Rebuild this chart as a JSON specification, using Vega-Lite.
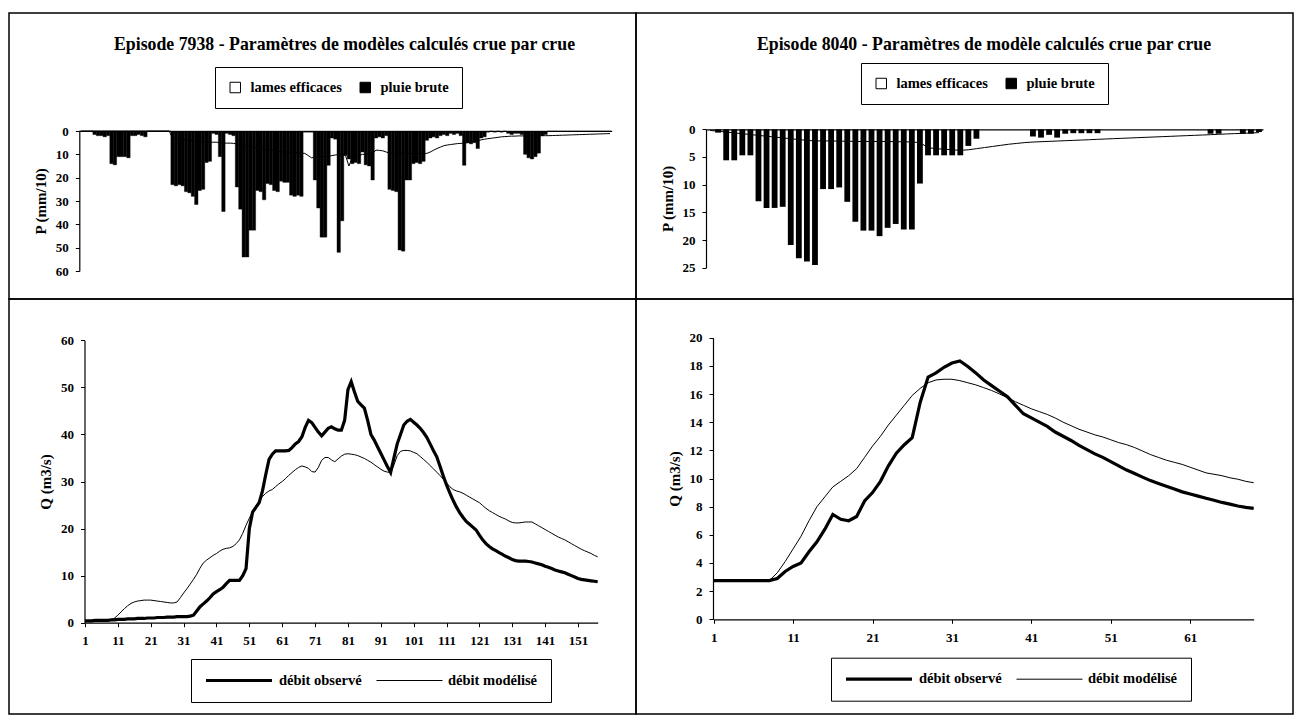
{
"$schema": "https://vega.github.io/schema/vega-lite/v6.json",
"background": "white",
"padding": {"left": 8, "top": 12, "right": 0, "bottom": 0},
"columns": 2,
"spacing": 0,
"align": "each",
"bounds": "flush",
"resolve": {"scale": {"fill": "independent", "strokeWidth": "independent"}, "legend": {"fill": "independent", "strokeWidth": "independent"}},
"config": {
  "font": "Liberation Serif",
  "view": {"stroke": "black", "strokeWidth": 1.5},
  "title": {"font": "Liberation Serif", "fontSize": 17.8, "fontWeight": "bold", "color": "black"},
  "axis": {"labelFont": "Liberation Serif", "labelFontWeight": "bold", "labelFontSize": 13, "labelColor": "black",
           "titleFont": "Liberation Serif", "titleFontWeight": "bold", "titleFontSize": 15, "titleColor": "black",
           "domainColor": "black", "domainWidth": 1.2, "tickColor": "black", "tickWidth": 1, "tickSize": 4,
           "grid": false, "labelPadding": 7, "titlePadding": 7, "zindex": 1},
  "legend": {"labelFont": "Liberation Serif", "labelFontWeight": "bold", "labelFontSize": 14.5, "labelColor": "black", "labelLimit": 300}
},
"datasets": {
"tl": [
{"t":1,"le":0,"pb":0},{"t":2,"le":0,"pb":0},{"t":3,"le":0,"pb":0},{"t":4,"le":0,"pb":0},{"t":5,"le":0,"pb":1.5},
{"t":6,"le":0,"pb":2},{"t":7,"le":0,"pb":2},{"t":8,"le":0,"pb":2.5},{"t":9,"le":0,"pb":2},{"t":10,"le":0,"pb":14},
{"t":11,"le":0,"pb":14.5},{"t":12,"le":0,"pb":11},{"t":13,"le":0,"pb":11},{"t":14,"le":0,"pb":11},{"t":15,"le":0,"pb":11.5},
{"t":16,"le":0,"pb":2},{"t":17,"le":0,"pb":2},{"t":18,"le":0,"pb":1.5},{"t":19,"le":0,"pb":2},{"t":20,"le":0,"pb":2.5},
{"t":21,"le":0,"pb":0},{"t":22,"le":0,"pb":0},{"t":23,"le":0,"pb":0},{"t":24,"le":0,"pb":0},{"t":25,"le":0,"pb":0},
{"t":26,"le":0,"pb":0},{"t":27,"le":0,"pb":0},{"t":28,"le":3,"pb":23},{"t":29,"le":3.2,"pb":23.5},{"t":30,"le":3.4,"pb":23},
{"t":31,"le":3.6,"pb":23.5},{"t":32,"le":3.8,"pb":26},{"t":33,"le":4,"pb":26.5},{"t":34,"le":4.2,"pb":28},{"t":35,"le":4.4,"pb":31.5},
{"t":36,"le":4.5,"pb":25.5},{"t":37,"le":4.6,"pb":25},{"t":38,"le":4.7,"pb":13.5},{"t":39,"le":4.8,"pb":13},{"t":40,"le":4.8,"pb":1},
{"t":41,"le":4.8,"pb":1.5},{"t":42,"le":5,"pb":11},{"t":43,"le":5.2,"pb":34.5},{"t":44,"le":5.2,"pb":1},{"t":45,"le":5.2,"pb":1.5},
{"t":46,"le":5.3,"pb":2},{"t":47,"le":5.5,"pb":24},{"t":48,"le":5.8,"pb":33.5},{"t":49,"le":6,"pb":54},{"t":50,"le":6.3,"pb":54},
{"t":51,"le":6.6,"pb":42.5},{"t":52,"le":6.9,"pb":42.5},{"t":53,"le":7.2,"pb":25.5},{"t":54,"le":7.5,"pb":26},{"t":55,"le":7.8,"pb":29.5},
{"t":56,"le":8,"pb":22.5},{"t":57,"le":8.2,"pb":23},{"t":58,"le":8.4,"pb":25.5},{"t":59,"le":8.6,"pb":26},{"t":60,"le":8.8,"pb":21.5},
{"t":61,"le":9,"pb":22},{"t":62,"le":9.1,"pb":22},{"t":63,"le":9.2,"pb":27.5},{"t":64,"le":9.3,"pb":28},{"t":65,"le":9.4,"pb":27.5},
{"t":66,"le":9.5,"pb":28},{"t":67,"le":9.6,"pb":0.5},{"t":68,"le":10.5,"pb":0.5},{"t":69,"le":11.5,"pb":0.5},{"t":70,"le":11.2,"pb":21},
{"t":71,"le":11,"pb":33},{"t":72,"le":11,"pb":45.5},{"t":73,"le":11,"pb":45.5},{"t":74,"le":11,"pb":14.7},{"t":75,"le":10.5,"pb":3},
{"t":76,"le":10.3,"pb":3.5},{"t":77,"le":10,"pb":52},{"t":78,"le":10,"pb":38.5},{"t":79,"le":10.5,"pb":10.5},{"t":80,"le":15,"pb":12},
{"t":81,"le":11.5,"pb":14},{"t":82,"le":11,"pb":13.5},{"t":83,"le":10.5,"pb":14},{"t":84,"le":10,"pb":9},{"t":85,"le":10,"pb":14.5},
{"t":86,"le":9.8,"pb":15},{"t":87,"le":9.5,"pb":21},{"t":88,"le":8.2,"pb":3},{"t":89,"le":8.3,"pb":2.5},{"t":90,"le":8.5,"pb":3},
{"t":91,"le":9,"pb":2},{"t":92,"le":9.5,"pb":25},{"t":93,"le":9.5,"pb":25.5},{"t":94,"le":9.5,"pb":26},{"t":95,"le":9.5,"pb":51},
{"t":96,"le":9.5,"pb":51.5},{"t":97,"le":9.6,"pb":21},{"t":98,"le":9.6,"pb":21},{"t":99,"le":9.6,"pb":14},{"t":100,"le":9.6,"pb":13.5},
{"t":101,"le":9.6,"pb":14},{"t":102,"le":9.6,"pb":13},{"t":103,"le":9.6,"pb":4},{"t":104,"le":9,"pb":3},{"t":105,"le":8.2,"pb":2.5},
{"t":106,"le":7.5,"pb":3},{"t":107,"le":6.9,"pb":2},{"t":108,"le":6.3,"pb":1.5},{"t":109,"le":6,"pb":2},{"t":110,"le":5.8,"pb":1},
{"t":111,"le":5.6,"pb":1.5},{"t":112,"le":5.4,"pb":1},{"t":113,"le":5.3,"pb":2},{"t":114,"le":5.2,"pb":14.7},{"t":115,"le":5,"pb":5},
{"t":116,"le":4.7,"pb":5.5},{"t":117,"le":4.4,"pb":5},{"t":118,"le":4.1,"pb":7.5},{"t":119,"le":3.8,"pb":3},{"t":120,"le":3.5,"pb":2.5},
{"t":121,"le":3.3,"pb":0.5},{"t":122,"le":3.1,"pb":0},{"t":123,"le":2.9,"pb":0.5},{"t":124,"le":2.7,"pb":0},{"t":125,"le":2.5,"pb":0.5},
{"t":126,"le":2.4,"pb":0},{"t":127,"le":2.3,"pb":1},{"t":128,"le":2.2,"pb":1.5},{"t":129,"le":2.2,"pb":1},{"t":130,"le":2.1,"pb":1},
{"t":131,"le":2.1,"pb":1.5},{"t":132,"le":2.1,"pb":10},{"t":133,"le":2,"pb":11.5},{"t":134,"le":2,"pb":12},{"t":135,"le":2,"pb":11},
{"t":136,"le":2,"pb":9.5},{"t":137,"le":2,"pb":2},{"t":138,"le":2,"pb":1.5},{"t":139,"le":2,"pb":0},{"t":140,"le":1.95,"pb":0},
{"t":141,"le":1.9,"pb":0},{"t":142,"le":1.85,"pb":0},{"t":143,"le":1.8,"pb":0},{"t":144,"le":1.75,"pb":0},{"t":145,"le":1.7,"pb":0},
{"t":146,"le":1.65,"pb":0},{"t":147,"le":1.6,"pb":0},{"t":148,"le":1.55,"pb":0},{"t":149,"le":1.5,"pb":0},{"t":150,"le":1.45,"pb":0},
{"t":151,"le":1.4,"pb":0},{"t":152,"le":1.35,"pb":0},{"t":153,"le":1.3,"pb":0},{"t":154,"le":1.25,"pb":0},{"t":155,"le":1.2,"pb":0},
{"t":156,"le":1.15,"pb":0},{"t":157,"le":1.1,"pb":0}
],
"tr": [
{"t":1,"le":0.2,"pb":0},{"t":2,"le":0.35,"pb":0.6},{"t":3,"le":0.5,"pb":5.6},{"t":4,"le":0.65,"pb":5.6},{"t":5,"le":0.8,"pb":4.7},
{"t":6,"le":0.95,"pb":4.7},{"t":7,"le":1.1,"pb":13},{"t":8,"le":1.25,"pb":14.2},{"t":9,"le":1.4,"pb":14.2},{"t":10,"le":1.55,"pb":14},
{"t":11,"le":1.7,"pb":20.9},{"t":12,"le":1.85,"pb":23.3},{"t":13,"le":2,"pb":23.9},{"t":14,"le":2.1,"pb":24.5},{"t":15,"le":2.1,"pb":10.8},
{"t":16,"le":2.1,"pb":10.8},{"t":17,"le":2.15,"pb":10.5},{"t":18,"le":2.15,"pb":13.1},{"t":19,"le":2.2,"pb":16.7},{"t":20,"le":2.2,"pb":18.3},
{"t":21,"le":2.2,"pb":18.3},{"t":22,"le":2.2,"pb":19.3},{"t":23,"le":2.2,"pb":17.8},{"t":24,"le":2.25,"pb":17.1},{"t":25,"le":2.25,"pb":18.1},
{"t":26,"le":2.3,"pb":18.1},{"t":27,"le":2.4,"pb":9.8},{"t":28,"le":3.3,"pb":4.7},{"t":29,"le":3.5,"pb":4.7},{"t":30,"le":3.6,"pb":4.7},
{"t":31,"le":3.7,"pb":4.7},{"t":32,"le":3.8,"pb":4.7},{"t":33,"le":3.7,"pb":3},{"t":34,"le":3.5,"pb":1.7},{"t":35,"le":3.3,"pb":0},
{"t":36,"le":3.1,"pb":0},{"t":37,"le":2.9,"pb":0},{"t":38,"le":2.7,"pb":0},{"t":39,"le":2.55,"pb":0},{"t":40,"le":2.4,"pb":0},
{"t":41,"le":2.3,"pb":1.3},{"t":42,"le":2.24,"pb":1.5},{"t":43,"le":2.18,"pb":1},{"t":44,"le":2.12,"pb":1.5},{"t":45,"le":2.06,"pb":0.8},
{"t":46,"le":2,"pb":0.7},{"t":47,"le":1.94,"pb":0.7},{"t":48,"le":1.88,"pb":0.7},{"t":49,"le":1.81,"pb":0.7},{"t":50,"le":1.75,"pb":0},
{"t":51,"le":1.69,"pb":0},{"t":52,"le":1.63,"pb":0},{"t":53,"le":1.57,"pb":0},{"t":54,"le":1.51,"pb":0},{"t":55,"le":1.45,"pb":0},
{"t":56,"le":1.39,"pb":0},{"t":57,"le":1.33,"pb":0},{"t":58,"le":1.27,"pb":0},{"t":59,"le":1.21,"pb":0},{"t":60,"le":1.15,"pb":0},
{"t":61,"le":1.09,"pb":0},{"t":62,"le":1.03,"pb":0},{"t":63,"le":0.97,"pb":0.8},{"t":64,"le":0.9,"pb":0.8},{"t":65,"le":0.84,"pb":0},
{"t":66,"le":0.78,"pb":0},{"t":67,"le":0.72,"pb":0.8},{"t":68,"le":0.66,"pb":0.8},{"t":69,"le":0.6,"pb":0.5}
],
"bl": [
{"t":1,"obs":0.4,"mod":0.4},{"t":2,"obs":0.4,"mod":0.4},{"t":3,"obs":0.4,"mod":0.4},{"t":4,"obs":0.5,"mod":0.4},{"t":5,"obs":0.5,"mod":0.4},
{"t":6,"obs":0.5,"mod":0.4},{"t":7,"obs":0.5,"mod":0.5},{"t":8,"obs":0.5,"mod":0.5},{"t":9,"obs":0.6,"mod":0.6},{"t":10,"obs":0.6,"mod":1.0},
{"t":11,"obs":0.7,"mod":1.6},{"t":12,"obs":0.7,"mod":2.3},{"t":13,"obs":0.7,"mod":3.0},{"t":14,"obs":0.8,"mod":3.6},{"t":15,"obs":0.8,"mod":4.1},
{"t":16,"obs":0.8,"mod":4.4},{"t":17,"obs":0.9,"mod":4.6},{"t":18,"obs":0.9,"mod":4.7},{"t":19,"obs":0.9,"mod":4.8},{"t":20,"obs":1.0,"mod":4.8},
{"t":21,"obs":1.0,"mod":4.8},{"t":22,"obs":1.0,"mod":4.7},{"t":23,"obs":1.1,"mod":4.6},{"t":24,"obs":1.1,"mod":4.5},{"t":25,"obs":1.1,"mod":4.4},
{"t":26,"obs":1.2,"mod":4.3},{"t":27,"obs":1.2,"mod":4.2},{"t":28,"obs":1.2,"mod":4.2},{"t":29,"obs":1.3,"mod":4.4},{"t":30,"obs":1.3,"mod":5.3},
{"t":31,"obs":1.3,"mod":6.3},{"t":32,"obs":1.3,"mod":7.2},{"t":33,"obs":1.4,"mod":8.2},{"t":34,"obs":1.6,"mod":9.2},{"t":35,"obs":2.5,"mod":10.3},
{"t":36,"obs":3.4,"mod":11.6},{"t":37,"obs":4.0,"mod":12.7},{"t":38,"obs":4.6,"mod":13.3},{"t":39,"obs":5.3,"mod":13.8},{"t":40,"obs":6.1,"mod":14.3},
{"t":41,"obs":6.6,"mod":14.7},{"t":42,"obs":7.0,"mod":15.2},{"t":43,"obs":7.5,"mod":15.6},{"t":44,"obs":8.3,"mod":15.8},{"t":45,"obs":9.0,"mod":15.9},
{"t":46,"obs":9.0,"mod":16.2},{"t":47,"obs":9.0,"mod":16.8},{"t":48,"obs":9.0,"mod":17.6},{"t":49,"obs":10.0,"mod":19.0},{"t":50,"obs":11.5,"mod":20.7},
{"t":51,"obs":20.0,"mod":22.2},{"t":52,"obs":23.5,"mod":23.6},{"t":53,"obs":24.5,"mod":24.8},{"t":54,"obs":25.5,"mod":25.9},{"t":55,"obs":28.0,"mod":26.8},
{"t":56,"obs":31.5,"mod":27.5},{"t":57,"obs":34.7,"mod":28.0},{"t":58,"obs":35.8,"mod":28.3},{"t":59,"obs":36.5,"mod":28.9},{"t":60,"obs":36.5,"mod":29.5},
{"t":61,"obs":36.5,"mod":30.0},{"t":62,"obs":36.5,"mod":30.6},{"t":63,"obs":36.6,"mod":31.3},{"t":64,"obs":37.2,"mod":31.9},{"t":65,"obs":38.0,"mod":32.5},
{"t":66,"obs":38.5,"mod":33.0},{"t":67,"obs":39.5,"mod":33.3},{"t":68,"obs":41.5,"mod":33.1},{"t":69,"obs":43.0,"mod":32.8},{"t":70,"obs":42.5,"mod":32.1},
{"t":71,"obs":41.5,"mod":32.0},{"t":72,"obs":40.5,"mod":33.0},{"t":73,"obs":39.7,"mod":34.5},{"t":74,"obs":40.5,"mod":35.1},{"t":75,"obs":41.3,"mod":35.1},
{"t":76,"obs":41.6,"mod":34.6},{"t":77,"obs":41.2,"mod":34.2},{"t":78,"obs":40.9,"mod":34.8},{"t":79,"obs":40.9,"mod":35.4},{"t":80,"obs":43.0,"mod":35.8},
{"t":81,"obs":49.5,"mod":35.9},{"t":82,"obs":51.2,"mod":35.8},{"t":83,"obs":49.0,"mod":35.7},{"t":84,"obs":47.0,"mod":35.5},{"t":85,"obs":46.3,"mod":35.2},
{"t":86,"obs":45.6,"mod":34.9},{"t":87,"obs":43.0,"mod":34.5},{"t":88,"obs":40.0,"mod":34.1},{"t":89,"obs":38.8,"mod":33.6},{"t":90,"obs":37.4,"mod":33.1},
{"t":91,"obs":36.0,"mod":32.6},{"t":92,"obs":34.6,"mod":32.2},{"t":93,"obs":33.2,"mod":32.0},{"t":94,"obs":31.9,"mod":31.9},{"t":95,"obs":35.0,"mod":33.5},
{"t":96,"obs":38.0,"mod":35.5},{"t":97,"obs":40.0,"mod":36.4},{"t":98,"obs":42.0,"mod":36.6},{"t":99,"obs":42.8,"mod":36.6},{"t":100,"obs":43.2,"mod":36.5},
{"t":101,"obs":42.6,"mod":36.2},{"t":102,"obs":42.0,"mod":35.9},{"t":103,"obs":41.3,"mod":35.3},{"t":104,"obs":40.4,"mod":34.7},{"t":105,"obs":39.4,"mod":34.1},
{"t":106,"obs":38.0,"mod":33.4},{"t":107,"obs":36.6,"mod":32.7},{"t":108,"obs":35.3,"mod":32.0},{"t":109,"obs":33.3,"mod":31.3},{"t":110,"obs":31.2,"mod":30.5},
{"t":111,"obs":29.3,"mod":29.7},{"t":112,"obs":27.6,"mod":28.9},{"t":113,"obs":26.0,"mod":28.3},{"t":114,"obs":24.6,"mod":28.0},{"t":115,"obs":23.4,"mod":27.8},
{"t":116,"obs":22.4,"mod":27.5},{"t":117,"obs":21.5,"mod":27.1},{"t":118,"obs":20.9,"mod":26.7},{"t":119,"obs":20.3,"mod":26.3},{"t":120,"obs":19.7,"mod":25.9},
{"t":121,"obs":18.6,"mod":25.5},{"t":122,"obs":17.6,"mod":24.9},{"t":123,"obs":16.8,"mod":24.3},{"t":124,"obs":16.2,"mod":23.8},{"t":125,"obs":15.7,"mod":23.4},
{"t":126,"obs":15.3,"mod":23.0},{"t":127,"obs":14.9,"mod":22.6},{"t":128,"obs":14.5,"mod":22.3},{"t":129,"obs":14.1,"mod":22.0},{"t":130,"obs":13.8,"mod":21.6},
{"t":131,"obs":13.4,"mod":21.3},{"t":132,"obs":13.2,"mod":21.2},{"t":133,"obs":13.1,"mod":21.2},{"t":134,"obs":13.1,"mod":21.3},{"t":135,"obs":13.1,"mod":21.4},
{"t":136,"obs":13.0,"mod":21.4},{"t":137,"obs":12.9,"mod":21.4},{"t":138,"obs":12.7,"mod":21.0},{"t":139,"obs":12.5,"mod":20.6},{"t":140,"obs":12.3,"mod":20.2},
{"t":141,"obs":12.0,"mod":19.8},{"t":142,"obs":11.8,"mod":19.4},{"t":143,"obs":11.5,"mod":19.0},{"t":144,"obs":11.2,"mod":18.6},{"t":145,"obs":11.0,"mod":18.2},
{"t":146,"obs":10.8,"mod":17.9},{"t":147,"obs":10.6,"mod":17.6},{"t":148,"obs":10.3,"mod":17.2},{"t":149,"obs":10.0,"mod":16.8},{"t":150,"obs":9.7,"mod":16.4},
{"t":151,"obs":9.4,"mod":16.0},{"t":152,"obs":9.2,"mod":15.6},{"t":153,"obs":9.1,"mod":15.3},{"t":154,"obs":9.0,"mod":15.0},{"t":155,"obs":8.9,"mod":14.7},
{"t":156,"obs":8.8,"mod":14.3},{"t":157,"obs":8.7,"mod":14.0}
],
"br": [
{"t":1,"obs":2.75,"mod":2.75},{"t":2,"obs":2.75,"mod":2.75},{"t":3,"obs":2.75,"mod":2.75},{"t":4,"obs":2.75,"mod":2.75},{"t":5,"obs":2.75,"mod":2.75},
{"t":6,"obs":2.75,"mod":2.75},{"t":7,"obs":2.75,"mod":2.75},{"t":8,"obs":2.75,"mod":2.75},{"t":9,"obs":2.9,"mod":3.3},{"t":10,"obs":3.4,"mod":4.1},
{"t":11,"obs":3.75,"mod":5.0},{"t":12,"obs":4.0,"mod":5.9},{"t":13,"obs":4.8,"mod":7.0},{"t":14,"obs":5.5,"mod":8.0},{"t":15,"obs":6.4,"mod":8.7},
{"t":16,"obs":7.45,"mod":9.4},{"t":17,"obs":7.1,"mod":9.8},{"t":18,"obs":7.0,"mod":10.2},{"t":19,"obs":7.3,"mod":10.7},{"t":20,"obs":8.4,"mod":11.5},
{"t":21,"obs":9.0,"mod":12.3},{"t":22,"obs":9.8,"mod":13.0},{"t":23,"obs":10.9,"mod":13.8},{"t":24,"obs":11.8,"mod":14.5},{"t":25,"obs":12.4,"mod":15.2},
{"t":26,"obs":12.9,"mod":15.9},{"t":27,"obs":15.4,"mod":16.4},{"t":28,"obs":17.2,"mod":16.8},{"t":29,"obs":17.5,"mod":17.0},{"t":30,"obs":17.9,"mod":17.05},
{"t":31,"obs":18.2,"mod":17.05},{"t":32,"obs":18.35,"mod":16.95},{"t":33,"obs":17.95,"mod":16.8},{"t":34,"obs":17.5,"mod":16.65},{"t":35,"obs":17.0,"mod":16.45},
{"t":36,"obs":16.6,"mod":16.25},{"t":37,"obs":16.2,"mod":16.0},{"t":38,"obs":15.8,"mod":15.75},{"t":39,"obs":15.2,"mod":15.45},{"t":40,"obs":14.6,"mod":15.2},
{"t":41,"obs":14.3,"mod":14.95},{"t":42,"obs":14.0,"mod":14.75},{"t":43,"obs":13.7,"mod":14.55},{"t":44,"obs":13.3,"mod":14.3},{"t":45,"obs":13.0,"mod":14.0},
{"t":46,"obs":12.7,"mod":13.75},{"t":47,"obs":12.35,"mod":13.5},{"t":48,"obs":12.05,"mod":13.3},{"t":49,"obs":11.75,"mod":13.1},{"t":50,"obs":11.5,"mod":12.95},
{"t":51,"obs":11.2,"mod":12.75},{"t":52,"obs":10.9,"mod":12.55},{"t":53,"obs":10.6,"mod":12.4},{"t":54,"obs":10.35,"mod":12.2},{"t":55,"obs":10.1,"mod":11.95},
{"t":56,"obs":9.85,"mod":11.7},{"t":57,"obs":9.65,"mod":11.5},{"t":58,"obs":9.45,"mod":11.3},{"t":59,"obs":9.25,"mod":11.15},{"t":60,"obs":9.05,"mod":11.0},
{"t":61,"obs":8.9,"mod":10.8},{"t":62,"obs":8.75,"mod":10.6},{"t":63,"obs":8.6,"mod":10.4},{"t":64,"obs":8.45,"mod":10.3},{"t":65,"obs":8.3,"mod":10.2},
{"t":66,"obs":8.18,"mod":10.05},{"t":67,"obs":8.05,"mod":9.95},{"t":68,"obs":7.95,"mod":9.8},{"t":69,"obs":7.88,"mod":9.7}
]
},
"concat": [
  {
    "width": 627, "height": 286,
    "title": {"text": "Episode 7938 - Paramètres de modèles calculés crue par crue", "offset": -55, "dx": 22, "anchor": "middle", "frame": "group", "baseline": "alphabetic"},
    "data": {"name": "tl"},
    "encoding": {
      "x": {"field": "t", "type": "ordinal", "title": null,
            "scale": {"type": "band", "range": [70.3, 602.7], "paddingInner": 0, "paddingOuter": 0},
            "axis": {"orient": "top", "offset": -118, "labels": false, "ticks": false, "zindex": 3}}
    },
    "layer": [
      {"mark": {"type": "bar"},
       "encoding": {
         "y": {"field": "le", "type": "quantitative", "title": "P (mm/10)",
               "scale": {"domain": [0, 60], "range": [118, 258], "nice": false},
               "axis": {"orient": "left", "offset": -70.3, "values": [0, 10, 20, 30, 40, 50, 60], "zindex": 3}},
         "fill": {"datum": "lames efficaces",
                  "scale": {"domain": ["lames efficaces", "pluie brute"], "range": ["white", "black"]},
                  "legend": {"title": null, "orient": "none", "legendX": 206, "legendY": 54, "direction": "horizontal",
                             "strokeColor": "black", "fillColor": "white", "padding": 13,
                             "symbolType": "square", "symbolSize": 110, "columnPadding": 16, "labelOffset": 8,
                             "encode": {"symbols": {"update": {"stroke": {"value": "black"}, "strokeWidth": {"value": 1}}}}}}
       }},
      {"mark": {"type": "line", "color": "black", "strokeWidth": 1},
       "encoding": {"y": {"field": "le", "type": "quantitative", "title": "P (mm/10)"}}},
      {"mark": {"type": "bar", "stroke": "black", "strokeWidth": 0.4},
       "encoding": {"y": {"field": "pb", "type": "quantitative", "title": "P (mm/10)"},
                    "fill": {"datum": "pluie brute"}}}
    ]
  },
  {
    "width": 657, "height": 286,
    "title": {"text": "Episode 8040 - Paramètres de modèle calculés crue par crue", "offset": -55, "dx": 19.5, "anchor": "middle", "frame": "group", "baseline": "alphabetic"},
    "data": {"name": "tr"},
    "encoding": {
      "x": {"field": "t", "type": "ordinal", "title": null,
            "scale": {"type": "band", "range": [70, 627], "paddingInner": 0.28, "paddingOuter": 0.14},
            "axis": {"orient": "top", "offset": -116.3, "labels": false, "ticks": false, "zindex": 3}}
    },
    "layer": [
      {"mark": {"type": "bar"},
       "encoding": {
         "y": {"field": "le", "type": "quantitative", "title": "P (mm/10)",
               "scale": {"domain": [0, 25], "range": [116.3, 254.7], "nice": false},
               "axis": {"orient": "left", "offset": -70, "values": [0, 5, 10, 15, 20, 25], "zindex": 3}},
         "fill": {"datum": "lames efficaces",
                  "scale": {"domain": ["lames efficaces", "pluie brute"], "range": ["white", "black"]},
                  "legend": {"title": null, "orient": "none", "legendX": 225, "legendY": 50, "direction": "horizontal",
                             "strokeColor": "black", "fillColor": "white", "padding": 13,
                             "symbolType": "square", "symbolSize": 110, "columnPadding": 16, "labelOffset": 8,
                             "encode": {"symbols": {"update": {"stroke": {"value": "black"}, "strokeWidth": {"value": 1}}}}}}
       }},
      {"mark": {"type": "line", "color": "black", "strokeWidth": 1},
       "encoding": {"y": {"field": "le", "type": "quantitative", "title": "P (mm/10)"}}},
      {"mark": {"type": "bar"},
       "encoding": {"y": {"field": "pb", "type": "quantitative", "title": "P (mm/10)"},
                    "fill": {"datum": "pluie brute"}}}
    ]
  },
  {
    "width": 627, "height": 415,
    "data": {"name": "bl"},
    "encoding": {
      "x": {"field": "t", "type": "quantitative", "title": null,
            "scale": {"domain": [1, 157], "range": [76, 588.7], "nice": false, "zero": false},
            "axis": {"orient": "bottom", "offset": -91.3, "values": [1, 11, 21, 31, 41, 51, 61, 71, 81, 91, 101, 111, 121, 131, 141, 151],
                     "labelFlush": false, "labelOverlap": false, "labelPadding": 8}}
    },
    "layer": [
      {"mark": {"type": "line", "color": "black"},
       "encoding": {
         "y": {"field": "mod", "type": "quantitative", "title": "Q (m3/s)",
               "scale": {"domain": [0, 60], "range": [323.7, 41.3], "nice": false},
               "axis": {"orient": "left", "offset": -75.5, "values": [0, 10, 20, 30, 40, 50, 60]}},
         "strokeWidth": {"datum": "débit modélisé",
                         "scale": {"type": "point", "domain": ["débit observé", "débit modélisé"], "range": [3.2, 1], "padding": 0},
                         "legend": {"title": null, "orient": "none", "legendX": 182, "legendY": 360, "direction": "horizontal",
                                    "strokeColor": "black", "fillColor": "white", "padding": 13,
                                    "symbolType": "stroke", "symbolSize": 4356, "clipHeight": 17, "columnPadding": 14, "labelOffset": 5,
                                    "encode": {"symbols": {"update": {"stroke": {"value": "black"}}}}}}
       }},
      {"mark": {"type": "line", "color": "black"},
       "encoding": {
         "y": {"field": "obs", "type": "quantitative", "title": "Q (m3/s)"},
         "strokeWidth": {"datum": "débit observé"}
       }}
    ]
  },
  {
    "width": 657, "height": 415,
    "data": {"name": "br"},
    "encoding": {
      "x": {"field": "t", "type": "quantitative", "title": null,
            "scale": {"domain": [1, 69], "range": [77.7, 617.7], "nice": false, "zero": false},
            "axis": {"orient": "bottom", "offset": -94.7, "values": [1, 11, 21, 31, 41, 51, 61],
                     "labelFlush": false, "labelOverlap": false, "labelPadding": 8}}
    },
    "layer": [
      {"mark": {"type": "line", "color": "black"},
       "encoding": {
         "y": {"field": "mod", "type": "quantitative", "title": "Q (m3/s)",
               "scale": {"domain": [0, 20], "range": [320.3, 38.7], "nice": false},
               "axis": {"orient": "left", "offset": -77, "values": [0, 2, 4, 6, 8, 10, 12, 14, 16, 18, 20]}},
         "strokeWidth": {"datum": "débit modélisé",
                         "scale": {"type": "point", "domain": ["débit observé", "débit modélisé"], "range": [3.2, 1], "padding": 0},
                         "legend": {"title": null, "orient": "none", "legendX": 195, "legendY": 358.7, "direction": "horizontal",
                                    "strokeColor": "black", "fillColor": "white", "padding": 13,
                                    "symbolType": "stroke", "symbolSize": 4356, "clipHeight": 17, "columnPadding": 14, "labelOffset": 5,
                                    "encode": {"symbols": {"update": {"stroke": {"value": "black"}}}}}}
       }},
      {"mark": {"type": "line", "color": "black"},
       "encoding": {
         "y": {"field": "obs", "type": "quantitative", "title": "Q (m3/s)"},
         "strokeWidth": {"datum": "débit observé"}
       }}
    ]
  }
]
}
